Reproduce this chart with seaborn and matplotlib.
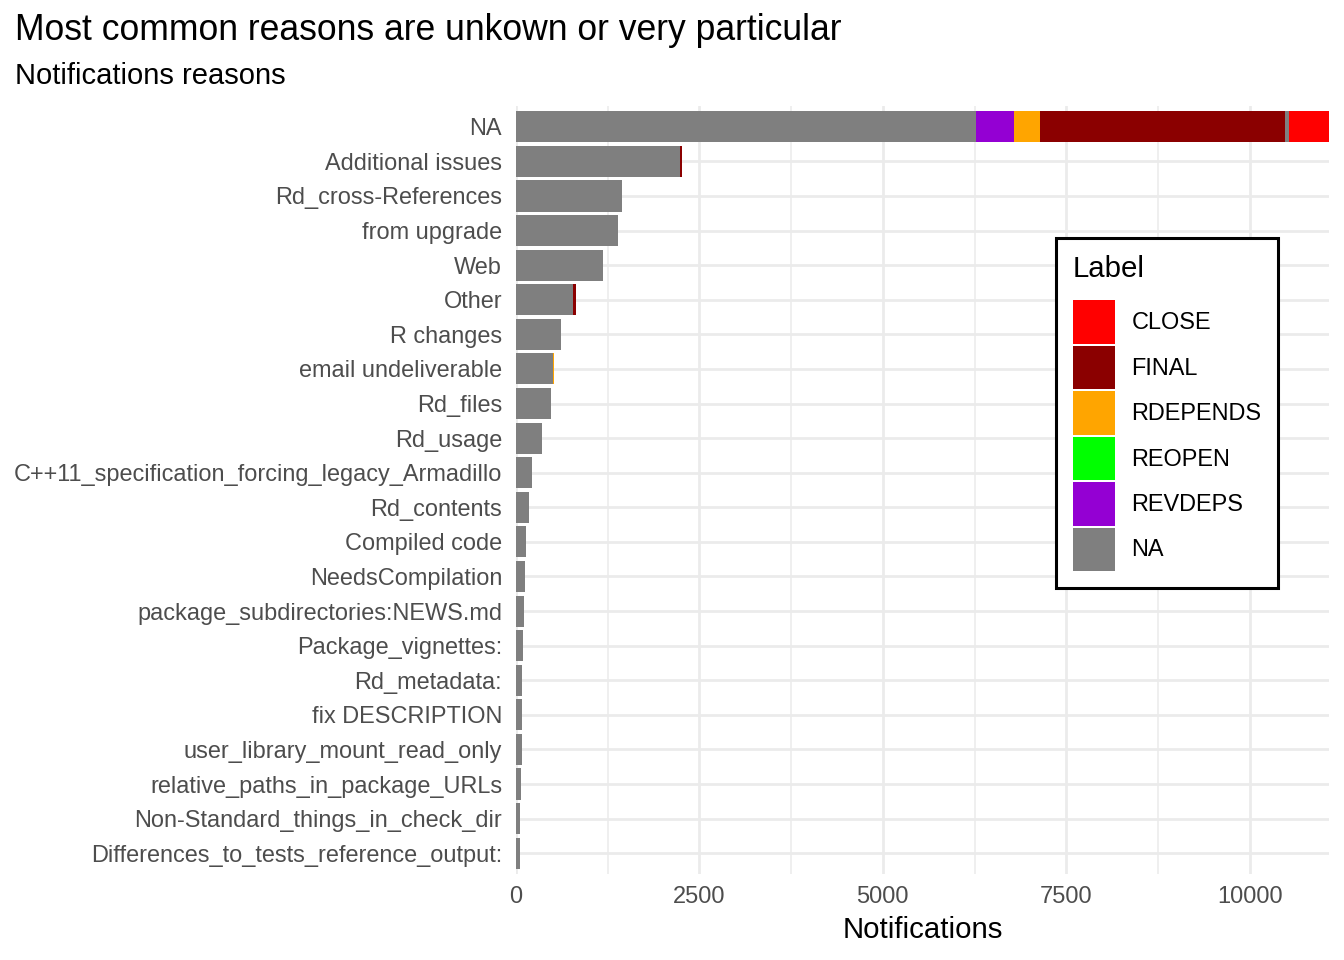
import matplotlib
matplotlib.use("Agg")
import matplotlib.pyplot as plt
from matplotlib.patches import Patch
from matplotlib.ticker import MultipleLocator
import seaborn as sns
import pandas as pd
import numpy as np

# ---------------- data ----------------
categories = [
    "NA", "Additional issues", "Rd_cross-References", "from upgrade", "Web",
    "Other", "R changes", "email undeliverable", "Rd_files", "Rd_usage",
    "C++11_specification_forcing_legacy_Armadillo", "Rd_contents",
    "Compiled code", "NeedsCompilation", "package_subdirectories:NEWS.md",
    "Package_vignettes:", "Rd_metadata:", "fix DESCRIPTION",
    "user_library_mount_read_only", "relative_paths_in_package_URLs",
    "Non-Standard_things_in_check_dir", "Differences_to_tests_reference_output:",
]
na_label = [6266, 2236, 1445, 1391, 1186, 777, 614, 505, 477, 355, 218, 177,
            136, 123, 109, 95, 82, 82, 82, 68, 55, 55]
revdeps = [522] + [0] * 21
reopen = [0] * 22
rdepends = [355, 0, 0, 0, 0, 0, 0, 13] + [0] * 14
final = [3340, 28, 0, 0, 0, 41] + [0] * 16
unlisted = [54] + [0] * 21          # grey sliver not in legend
close = [545] + [0] * 21

legend_labels = ["CLOSE", "FINAL", "RDEPENDS", "REOPEN", "REVDEPS", "NA"]
colors = {"CLOSE": "#FF0000", "FINAL": "#8B0000", "RDEPENDS": "#FFA500",
          "REOPEN": "#00FF00", "REVDEPS": "#9400D3", "NA": "#7F7F7F",
          "unlisted": "#7F7F7F"}

# stacking order from the axis outward
stack = [("NA", na_label), ("REVDEPS", revdeps), ("REOPEN", reopen),
         ("RDEPENDS", rdepends), ("FINAL", final), ("unlisted", unlisted),
         ("CLOSE", close)]

rows = []
cum = np.zeros(len(categories))
for name, vals in stack:
    v = np.array(vals, dtype=float)
    cum = cum + v
    for c, val, cv in zip(categories, v, cum):
        rows.append({"category": c, "label": name, "value": val, "cum": cv})
df = pd.DataFrame(rows)

# ---------------- plot ----------------
sns.set_theme(style="white")
plt.rcParams["font.family"] = ["Liberation Sans", "DejaVu Sans"]
plt.rcParams["text.color"] = "black"

fig = plt.figure(figsize=(13.44, 9.6), dpi=100)
ax = fig.add_axes([516 / 1344, 1 - 874 / 960, (1329 - 516) / 1344, (874 - 106) / 960])

# draw cumulative layers, outermost first
for name, _ in reversed(stack):
    sub = df[(df["label"] == name) & (df["value"] > 0)]
    if sub.empty:
        continue
    sns.barplot(data=sub, x="cum", y="category", order=categories,
                color=colors[name], saturation=1, width=0.9, errorbar=None,
                orient="h", linewidth=0, edgecolor="none", ax=ax)

ax.set_xlim(0, 11082)
ax.set_ylim(len(categories) - 0.4, -0.6)
ax.xaxis.set_major_locator(MultipleLocator(2500))
ax.xaxis.set_minor_locator(MultipleLocator(1250))
ax.set_axisbelow(True)
ax.grid(which="major", axis="both", color="#EBEBEB", linewidth=2.0)
ax.grid(which="minor", axis="x", color="#EBEBEB", linewidth=1.1)
for s in ax.spines.values():
    s.set_visible(False)
ax.tick_params(axis="both", which="both", length=0)
ax.tick_params(axis="y", pad=10, labelsize=16.95, labelcolor="#4D4D4D")
ax.tick_params(axis="x", pad=8.5, labelsize=17, labelcolor="#4D4D4D")
ax.set_ylabel("")
ax.set_xlabel("Notifications", fontsize=21.2, color="black", labelpad=6.2)

# legend
handles = [Patch(facecolor=colors[l], edgecolor="none", label=l) for l in legend_labels]
leg = fig.legend(handles=handles, title="Label", loc="upper left",
                 bbox_to_anchor=(1056 / 1344, 1 - 238 / 960),
                 fontsize=16.9, title_fontsize=21.2, frameon=True, fancybox=False,
                 framealpha=1.0,
                 handlelength=1.79, handleheight=2.47, labelspacing=0.086,
                 handletextpad=0.70, borderpad=0.72, borderaxespad=0,
                 labelcolor="black")
leg.get_title().set_color("black")
leg.get_frame().set_edgecolor("black")
leg.get_frame().set_linewidth(2.2)
leg._legend_box.align = "left"
leg._legend_box.sep = 12.5

fig.text(15 / 1344, 1 - 40 / 960, "Most common reasons are unkown or very particular",
         fontsize=25.6, color="black", va="baseline", ha="left")
fig.text(15 / 1344, 1 - 84 / 960, "Notifications reasons",
         fontsize=21.0, color="black", va="baseline", ha="left")

fig.savefig("out.png", dpi=100, facecolor="white")
